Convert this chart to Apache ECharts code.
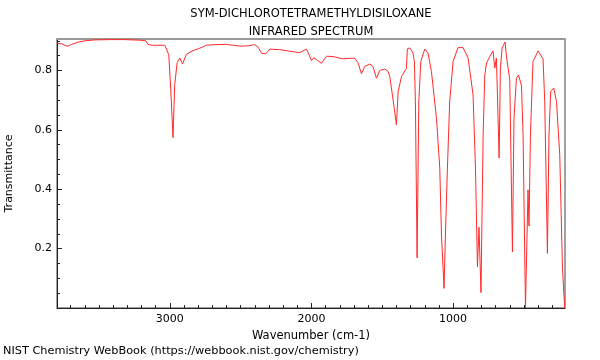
<!DOCTYPE html>
<html>
<head>
<meta charset="utf-8">
<script src="https://cdn.jsdelivr.net/npm/echarts@6/dist/echarts.min.js"></script>
<style>html,body{margin:0;padding:0;background:#fff}#c{width:600px;height:360px}</style>
</head>
<body>
<div id="c"></div>
<script>
var titleLines = ['SYM-DICHLOROTETRAMETHYLDISILOXANE', 'INFRARED SPECTRUM'];
var xAxisName = 'Wavenumber (cm-1)';
var yAxisName = 'Transmittance';
var footer = 'NIST Chemistry WebBook (https://webbook.nist.gov/chemistry)';

var wavenumbers = [3795,3762,3734,3718,3692,3649,3600,3529,3424,3318,3212,3169,3155,3127,3071,3035,3021,3007,2993,2977,2965,2948,2929,2910,2882,2836,2788,2741,2682,2600,2555,2506,2449,2400,2379,2351,2322,2294,2224,2153,2082,2035,2019,2000,1984,1962,1929,1894,1847,1777,1729,1694,1671,1647,1624,1588,1565,1541,1518,1482,1459,1447,1433,1417,1400,1388,1364,1329,1323,1306,1283,1273,1266,1254,1242,1228,1200,1177,1153,1117,1094,1082,1064,1054,1040,1024,1000,965,930,894,859,842,828,817,803,788,776,764,741,718,706,694,685,675,666,654,633,623,614,600,581,570,553,538,517,506,489,483,471,464,454,436,400,365,353,334,323,311,289,270,247,228,212];
var transmittance = [0.892,0.890,0.883,0.882,0.888,0.895,0.900,0.903,0.904,0.904,0.902,0.900,0.888,0.885,0.885,0.885,0.880,0.853,0.735,0.574,0.752,0.826,0.842,0.822,0.855,0.867,0.875,0.885,0.887,0.888,0.885,0.882,0.883,0.887,0.880,0.858,0.856,0.872,0.870,0.865,0.860,0.872,0.856,0.833,0.843,0.836,0.824,0.848,0.847,0.839,0.841,0.841,0.826,0.789,0.813,0.822,0.813,0.774,0.800,0.805,0.797,0.780,0.775,0.679,0.617,0.728,0.780,0.807,0.873,0.876,0.859,0.829,0.695,0.169,0.695,0.830,0.872,0.859,0.797,0.639,0.471,0.246,0.066,0.246,0.471,0.695,0.830,0.877,0.877,0.842,0.718,0.471,0.139,0.272,0.052,0.583,0.785,0.825,0.847,0.866,0.808,0.842,0.846,0.505,0.808,0.876,0.896,0.846,0.843,0.769,0.189,0.639,0.774,0.785,0.748,0.583,0.001,0.001,0.398,0.276,0.583,0.830,0.866,0.839,0.695,0.184,0.583,0.729,0.741,0.695,0.516,0.134,0.001];

var xMajorTicks = [1000, 2000, 3000];
var xMinorTicks = [300,400,500,600,700,800,900,1100,1200,1300,1400,1500,1600,1700,1800,1900,2100,2200,2300,2400,2500,2600,2700,2800,2900,3100,3200,3300,3400,3500,3600,3700];
var yMajorTicks = [0.2, 0.4, 0.6, 0.8];
var yMinorTicks = [0.05,0.1,0.15,0.25,0.3,0.35,0.45,0.5,0.55,0.65,0.7,0.75,0.85,0.9];

var X_MIN = 210, X_MAX = 3796, Y_MIN = 0, Y_MAX = 0.906;

var data = wavenumbers.map(function (w, i) { return [w, transmittance[i]]; });

var FONT = 'DejaVu Sans';
var chart = echarts.init(document.getElementById('c'), null, {renderer: 'canvas'});
chart.setOption({
  animation: false,
  backgroundColor: '#fff',
  title: [{
    text: titleLines.join('\n'),
    left: 311, top: 5, textAlign: 'center', padding: 0,
    textStyle: {fontFamily: FONT, fontSize: 11.5, fontWeight: 'normal', color: '#000', lineHeight: 18}
  }, {
    text: footer, left: 3, top: 346, padding: 0,
    textStyle: {fontFamily: FONT, fontSize: 11.3, fontWeight: 'normal', color: '#000'}
  }],
  grid: {left: 57, right: 35, top: 39, bottom: 52, outerBoundsMode: 'none', containLabel: false,
    show: true, borderColor: '#444', borderWidth: 1, backgroundColor: 'transparent'},
  xAxis: [{
    type: 'value', min: X_MIN, max: X_MAX, inverse: true, position: 'bottom',
    name: xAxisName, nameLocation: 'middle', nameGap: 18,
    nameTextStyle: {fontFamily: FONT, fontSize: 11.5, color: '#000'},
    axisLine: {show: true, onZero: false, lineStyle: {color: '#222', width: 1}},
    axisTick: {show: true, inside: true, length: 5, customValues: xMajorTicks, lineStyle: {color: '#222'}},
    axisLabel: {show: true, customValues: xMajorTicks, margin: 6, fontFamily: FONT, fontSize: 11, color: '#000',
      formatter: function (v) { return String(v); }},
    splitLine: {show: false}
  }, {
    type: 'value', min: X_MIN, max: X_MAX, inverse: true, position: 'bottom',
    axisLine: {show: false, onZero: false},
    axisTick: {show: true, inside: true, length: 3, customValues: xMinorTicks, lineStyle: {color: '#222'}},
    axisLabel: {show: false},
    splitLine: {show: false}
  }, {
    type: 'value', min: X_MIN, max: X_MAX, inverse: true, position: 'top',
    axisLine: {show: true, onZero: false, lineStyle: {color: '#999', width: 2}},
    axisTick: {show: false}, axisLabel: {show: false}, splitLine: {show: false}
  }],
  yAxis: [{
    type: 'value', min: Y_MIN, max: Y_MAX, position: 'left',
    name: yAxisName, nameLocation: 'middle', nameGap: 42, nameRotate: 90,
    nameTextStyle: {fontFamily: FONT, fontSize: 11, color: '#000'},
    axisLine: {show: true, onZero: false, lineStyle: {color: '#222', width: 1}},
    axisTick: {show: true, inside: true, length: 5, customValues: yMajorTicks, lineStyle: {color: '#222'}},
    axisLabel: {show: true, customValues: yMajorTicks, margin: 5, fontFamily: FONT, fontSize: 11, color: '#000',
      formatter: function (v) { return v.toFixed(1); }},
    splitLine: {show: false}
  }, {
    type: 'value', min: Y_MIN, max: Y_MAX, position: 'left',
    axisLine: {show: false, onZero: false},
    axisTick: {show: true, inside: true, length: 3, customValues: yMinorTicks, lineStyle: {color: '#222'}},
    axisLabel: {show: false}, splitLine: {show: false}
  }],
  series: [{
    type: 'line', data: data, xAxisIndex: 0, yAxisIndex: 0,
    showSymbol: false, symbol: 'none', smooth: false,
    lineStyle: {color: '#ff2a2a', width: 1},
    clip: true
  }]
});
</script>
</body>
</html>
